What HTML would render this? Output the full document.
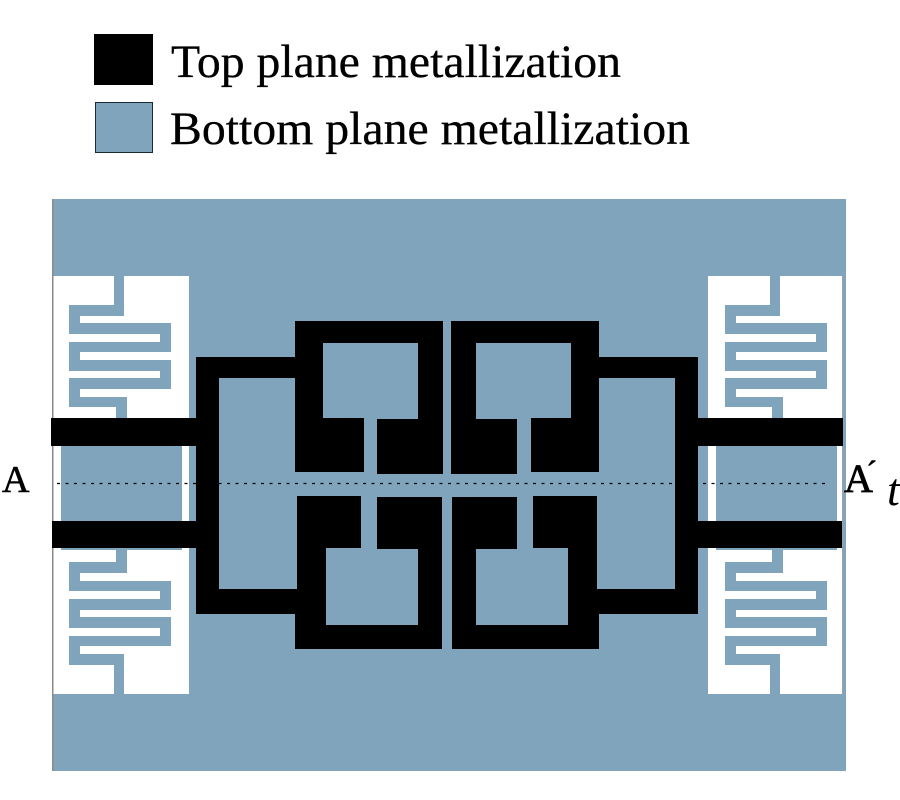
<!DOCTYPE html>
<html>
<head>
<meta charset="utf-8">
<style>
html,body{margin:0;padding:0;background:#fff;width:900px;height:800px;overflow:hidden}
svg{display:block}
text{font-family:"Liberation Serif",serif;fill:#000}
</style>
</head>
<body>
<svg width="900" height="800" viewBox="0 0 900 800" xmlns="http://www.w3.org/2000/svg">
<defs>
<g id="mt">
<rect x="114" y="276" width="10" height="40"/>
<rect x="69" y="305" width="55" height="11"/>
<rect x="69" y="305" width="11" height="29"/>
<rect x="69" y="323" width="102" height="11"/>
<rect x="160" y="323" width="11" height="29"/>
<rect x="69" y="342" width="102" height="10"/>
<rect x="69" y="342" width="11" height="29"/>
<rect x="69" y="360" width="102" height="11"/>
<rect x="160" y="360" width="11" height="29"/>
<rect x="69" y="378" width="102" height="11"/>
<rect x="69" y="378" width="11" height="29"/>
<rect x="69" y="397" width="58" height="10"/>
<rect x="116" y="397" width="11" height="21"/>
</g>
<g id="mb">
<rect x="116" y="548" width="11" height="25"/>
<rect x="69" y="562" width="58" height="11"/>
<rect x="69" y="562" width="11" height="29"/>
<rect x="69" y="581" width="102" height="10"/>
<rect x="160" y="581" width="11" height="29"/>
<rect x="69" y="599" width="102" height="11"/>
<rect x="69" y="599" width="11" height="29"/>
<rect x="69" y="617" width="102" height="11"/>
<rect x="160" y="617" width="11" height="29"/>
<rect x="69" y="636" width="102" height="10"/>
<rect x="69" y="636" width="11" height="29"/>
<rect x="69" y="654" width="55" height="11"/>
<rect x="114" y="654" width="10" height="40"/>
</g>
</defs>
<rect x="94" y="34" width="59" height="51" fill="#000"/>
<rect x="95.5" y="102.5" width="57" height="50" fill="#80a4bc" stroke="#1a2a35" stroke-width="1"/>
<text x="171" y="77" font-size="47" textLength="450" lengthAdjust="spacingAndGlyphs" stroke="#000" stroke-width="0.3">Top plane metallization</text>
<text x="170" y="144" font-size="47" textLength="520" lengthAdjust="spacingAndGlyphs" stroke="#000" stroke-width="0.3">Bottom plane metallization</text>

<rect x="53" y="199" width="793" height="572" fill="#80a4bc"/>
<rect x="53" y="276" width="136" height="418" fill="#fff"/>
<rect x="708" y="276" width="135" height="418" fill="#fff"/>
<rect x="52" y="199" width="1.5" height="572" fill="#8a8a8a"/>
<rect x="842" y="276" width="1.2" height="418" fill="#a0a0a0"/>
<rect x="61" y="440" width="121" height="110" fill="#80a4bc"/>
<rect x="716" y="440" width="121" height="110" fill="#80a4bc"/>

<g fill="#80a4bc" shape-rendering="crispEdges">
<use href="#mt"/>
<use href="#mb"/>
<use href="#mt" transform="translate(656 0)"/>
<use href="#mb" transform="translate(656 0)"/>
</g>

<line x1="57" y1="483.5" x2="828" y2="483.5" stroke="#000" stroke-width="1.2" stroke-dasharray="3 5.5"/>

<g fill="#000" shape-rendering="crispEdges">
<rect x="51" y="418" width="160" height="28"/>
<rect x="52" y="521" width="160" height="27"/>
<rect x="685" y="418" width="158" height="28"/>
<rect x="685" y="521" width="157" height="27"/>
<path d="M196 357H300V378H219V589H300V614H196Z"/>
<path d="M698 357H595V378H675V589H595V614H698Z"/>
<path d="M295 321H443V474H377V419H418V343H323V418H364V472H295Z"/>
<path d="M451 321H599V472H531V418H571V343H476V419H517V474H451Z"/>
<path d="M297 496H361V548H326V625H418V549H377V497H442V649H295V614H297Z"/>
<path d="M452 497H517V549H476V625H568V548H533V496H597V614H599V649H452Z"/>
</g>

<text x="2" y="492" font-size="38" stroke="#000" stroke-width="0.6">A</text>
<text x="844" y="492" font-size="40" stroke="#000" stroke-width="0.8">A</text>
<text x="866" y="484" font-size="34" stroke="#000" stroke-width="0.5">´</text>
<text x="887" y="505" font-size="46" font-style="italic">t</text>
</svg>
</body>
</html>
